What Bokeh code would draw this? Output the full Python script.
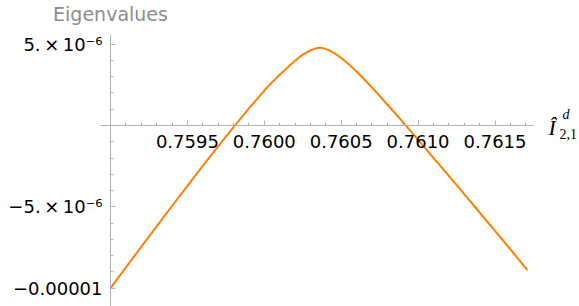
from bokeh.plotting import figure
from bokeh.models import Range1d, FixedTicker, Label
from bokeh.embed import file_html
from bokeh.resources import INLINE

# ---- data ----
x_vals = [0.7590, 0.7591, 0.7592, 0.7593, 0.7594, 0.7595, 0.7596, 0.7597, 0.7598,
          0.7599, 0.7600, 0.76005, 0.7601, 0.76015, 0.7602, 0.76025, 0.7603, 0.76033,
          0.76036, 0.76039, 0.76042, 0.76046, 0.7605, 0.76055, 0.7606, 0.76065,
          0.7607, 0.76075, 0.7608, 0.7609, 0.7610, 0.7611, 0.7612, 0.7613, 0.7614,
          0.7615, 0.7616, 0.76171]
y_vals = [-10.0e-6, -8.73e-6, -7.46e-6, -6.20e-6, -4.95e-6, -3.71e-6, -2.48e-6, -1.28e-6, -0.10e-6,
          1.05e-6, 2.15e-6, 2.65e-6, 3.12e-6, 3.56e-6, 3.98e-6, 4.36e-6, 4.62e-6, 4.73e-6,
          4.79e-6, 4.74e-6, 4.63e-6, 4.42e-6, 4.15e-6, 3.76e-6, 3.32e-6, 2.84e-6,
          2.34e-6, 1.82e-6, 1.29e-6, 0.22e-6, -0.88e-6, -1.99e-6, -3.10e-6, -4.22e-6, -5.35e-6,
          -6.48e-6, -7.61e-6, -8.90e-6]

x_major = [0.7595, 0.7600, 0.7605, 0.7610, 0.7615]
x_major_labels = ["0.7595", "0.7600", "0.7605", "0.7610", "0.7615"]
x_minor = [0.7591, 0.7592, 0.7593, 0.7594, 0.7596, 0.7597, 0.7598, 0.7599,
           0.7601, 0.7602, 0.7603, 0.7604, 0.7606, 0.7607, 0.7608, 0.7609,
           0.7611, 0.7612, 0.7613, 0.7614, 0.7616, 0.7617]
y_major = [-1e-5, -5e-6, 5e-6]
y_major_labels = ["\u22120.00001", "\u22125.\u2009\u00d7\u200910\u207b\u2076", "5.\u2009\u00d7\u200910\u207b\u2076"]
y_minor = [-9e-6, -8e-6, -7e-6, -6e-6, -4e-6, -3e-6, -2e-6, -1e-6,
           1e-6, 2e-6, 3e-6, 4e-6]

title_text = "Eigenvalues"
x_origin = 0.7590   # where the vertical axis stands
x_axis_end = 0.76175
y_axis_top = 5.6e-6

# ---- geometry (pixels) ----
W, H = 579, 306
X0_PX = 110          # pixel column of x_origin
PX_PER_X = 153800.0  # pixels per unit x
Y0_PX = 125          # pixel row of y = 0
PX_PER_Y = 16.26e6   # pixels per unit y

def xd(px):
    return x_origin + (px - X0_PX) / PX_PER_X

def yd(py):
    return (Y0_PX - py) / PX_PER_Y

AXIS_COLOR = "#b3b3b3"
FONT = "DejaVu Sans"

p = figure(width=W, height=H, output_backend="svg", toolbar_location=None,
           x_range=Range1d(xd(0), xd(W)), y_range=Range1d(yd(H), yd(0)),
           min_border=0, min_border_left=0, min_border_right=0,
           min_border_top=0, min_border_bottom=0)
p.outline_line_color = None
p.grid.visible = False
p.background_fill_color = "white"

# x axis crossing at y = 0
xa = p.xaxis[0]
xa.fixed_location = 0
xa.bounds = (xd(X0_PX - 10), x_axis_end)
xa.ticker = FixedTicker(ticks=x_major, minor_ticks=x_minor)
xa.major_label_overrides = {t: l for t, l in zip(x_major, x_major_labels)}
xa.axis_line_color = AXIS_COLOR
xa.major_tick_line_color = AXIS_COLOR
xa.minor_tick_line_color = AXIS_COLOR
xa.major_tick_in = 5
xa.major_tick_out = 0
xa.minor_tick_in = 3
xa.minor_tick_out = 0
xa.major_label_standoff = 9
xa.major_label_text_font = FONT
xa.major_label_text_font_size = "18px"
xa.major_label_text_color = "black"

# y axis at x = 0.7590
ya = p.yaxis[0]
ya.fixed_location = x_origin
ya.bounds = (yd(H), y_axis_top)
ya.ticker = FixedTicker(ticks=y_major, minor_ticks=y_minor)
ya.major_label_overrides = {t: l for t, l in zip(y_major, y_major_labels)}
ya.axis_line_color = AXIS_COLOR
ya.major_tick_line_color = AXIS_COLOR
ya.minor_tick_line_color = AXIS_COLOR
ya.major_tick_in = 5
ya.major_tick_out = 0
ya.minor_tick_in = 3
ya.minor_tick_out = 0
ya.major_label_standoff = 8
ya.major_label_text_font = FONT
ya.major_label_text_font_size = "18px"
ya.major_label_text_color = "black"

p.line(x_vals, y_vals, line_color="#ff8000", line_width=2)

# title above the y axis
p.add_layout(Label(x=x_origin, y=yd(13), text=title_text,
                   text_align="center", text_baseline="alphabetic",
                   text_font=FONT, text_font_size="19px", text_color="#8c8c8c"))

# axis label  \hat{I}^{d}_{2,1}
p.add_layout(Label(x=xd(548), y=yd(127), text="\u00ce",
                   text_align="left", text_baseline="alphabetic",
                   text_font="Liberation Serif", text_font_style="italic",
                   text_font_size="22px", text_color="black"))
p.add_layout(Label(x=xd(562), y=yd(114), text="d",
                   text_align="left", text_baseline="alphabetic",
                   text_font="Liberation Serif", text_font_style="italic",
                   text_font_size="14px", text_color="black"))
p.add_layout(Label(x=xd(559), y=yd(133), text="2,1",
                   text_align="left", text_baseline="alphabetic",
                   text_font="Liberation Serif",
                   text_font_size="14px", text_color="black"))

open("out.html", "w").write(file_html(p, INLINE))
